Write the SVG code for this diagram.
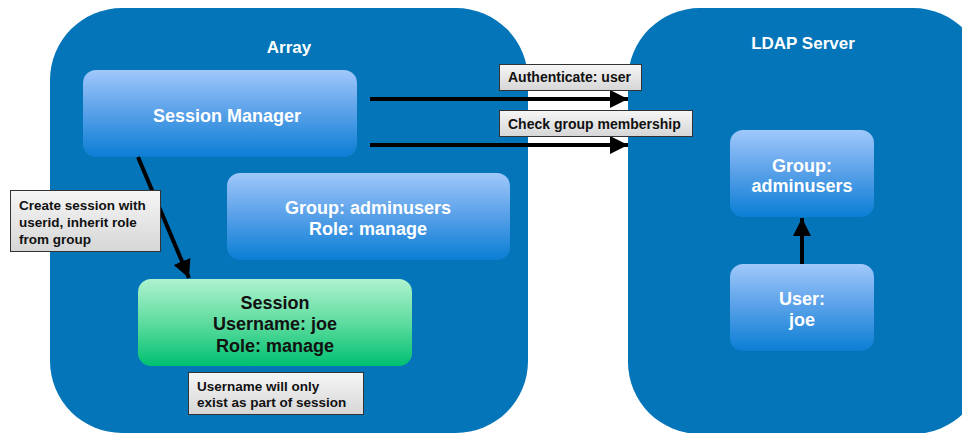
<svg xmlns="http://www.w3.org/2000/svg" width="962" height="433" viewBox="0 0 962 433">
<defs>
<linearGradient id="blueG" x1="0" y1="0" x2="0" y2="1">
<stop offset="0" stop-color="#a0c8fb"/>
<stop offset="0.45" stop-color="#5ea3ea"/>
<stop offset="1" stop-color="#0a7ed4"/>
</linearGradient>
<linearGradient id="greenG" x1="0" y1="0" x2="0" y2="1">
<stop offset="0" stop-color="#aef2cf"/>
<stop offset="0.5" stop-color="#5fdc9f"/>
<stop offset="1" stop-color="#00c071"/>
</linearGradient>
<linearGradient id="grayG" x1="0" y1="0" x2="0" y2="1">
<stop offset="0" stop-color="#f6f6f6"/>
<stop offset="1" stop-color="#d6d6d6"/>
</linearGradient>
<marker id="ah" markerUnits="userSpaceOnUse" markerWidth="20" markerHeight="18" refX="18" refY="9" orient="auto">
<path d="M0,0 L18,9 L0,18 Z" fill="#000"/>
</marker>
</defs>
<style>
.cont{fill:#0375b8}
.node{fill:url(#blueG)}
.sess{fill:url(#greenG)}
.note{fill:url(#grayG);stroke:#333;stroke-width:1}
.t{font-family:"Liberation Sans",Arial,sans-serif;font-weight:bold;text-anchor:middle}
.tw{fill:#fff;font-size:18px}
.tb{fill:#111;font-size:18px}
.tn{font-family:"Liberation Sans",Arial,sans-serif;font-weight:bold;font-size:13.5px;fill:#111}
.tl{font-size:14px}
.con{stroke:#000;stroke-width:4;fill:none;marker-end:url(#ah)}
</style>
<rect width="962" height="433" fill="#fff"/>
<g id="array">
<rect class="cont" x="50" y="8" width="478" height="425" rx="72"/>
<text class="t tw" x="289" y="53" style="font-size:17px">Array</text>
</g>
<g id="ldap">
<rect class="cont" x="628" y="8" width="357" height="426" rx="72"/>
<text class="t tw" x="803" y="49" style="font-size:17px">LDAP Server</text>
</g>
<g id="session-manager">
<rect class="node" x="83" y="70" width="274" height="87" rx="13"/>
<text class="t tw" x="227" y="122">Session Manager</text>
</g>
<g id="array-group">
<rect class="node" x="227" y="173" width="283" height="87" rx="13"/>
<text class="t tw" x="368" y="214">Group: adminusers</text>
<text class="t tw" x="368" y="235">Role: manage</text>
</g>
<g id="session">
<rect class="sess" x="138" y="279" width="274" height="87" rx="13"/>
<text class="t tb" x="275" y="309">Session</text>
<text class="t tb" x="275" y="330">Username: joe</text>
<text class="t tb" x="275" y="352">Role: manage</text>
</g>
<g id="ldap-group">
<rect class="node" x="730" y="130" width="144" height="87" rx="13"/>
<text class="t tw" x="802" y="172">Group:</text>
<text class="t tw" x="802" y="192">adminusers</text>
</g>
<g id="ldap-user">
<rect class="node" x="730" y="264" width="144" height="87" rx="13"/>
<text class="t tw" x="802" y="305">User:</text>
<text class="t tw" x="802" y="326">joe</text>
</g>
<g id="connectors">
<line class="con" x1="370" y1="99" x2="628" y2="99"/>
<line class="con" x1="370" y1="145" x2="628" y2="145"/>
<line class="con" x1="138" y1="157" x2="189" y2="278"/>
<line class="con" x1="802" y1="264" x2="802" y2="218"/>
</g>
<g id="label-auth">
<rect class="note" x="499.5" y="64.5" width="142" height="26"/>
<text class="tn tl" x="508" y="82">Authenticate: user</text>
</g>
<g id="label-check">
<rect class="note" x="499.5" y="110.5" width="193" height="26"/>
<text class="tn tl" x="508" y="129">Check group membership</text>
</g>
<g id="note-create">
<rect class="note" x="10.5" y="190.5" width="150" height="61"/>
<text class="tn" x="19" y="210">Create session with</text>
<text class="tn" x="19" y="227">userid, inherit role</text>
<text class="tn" x="19" y="244">from group</text>
</g>
<g id="note-username">
<rect class="note" x="188.5" y="372.5" width="175" height="42"/>
<text class="tn" x="197" y="391">Username will only</text>
<text class="tn" x="197" y="407">exist as part of session</text>
</g>
</svg>
